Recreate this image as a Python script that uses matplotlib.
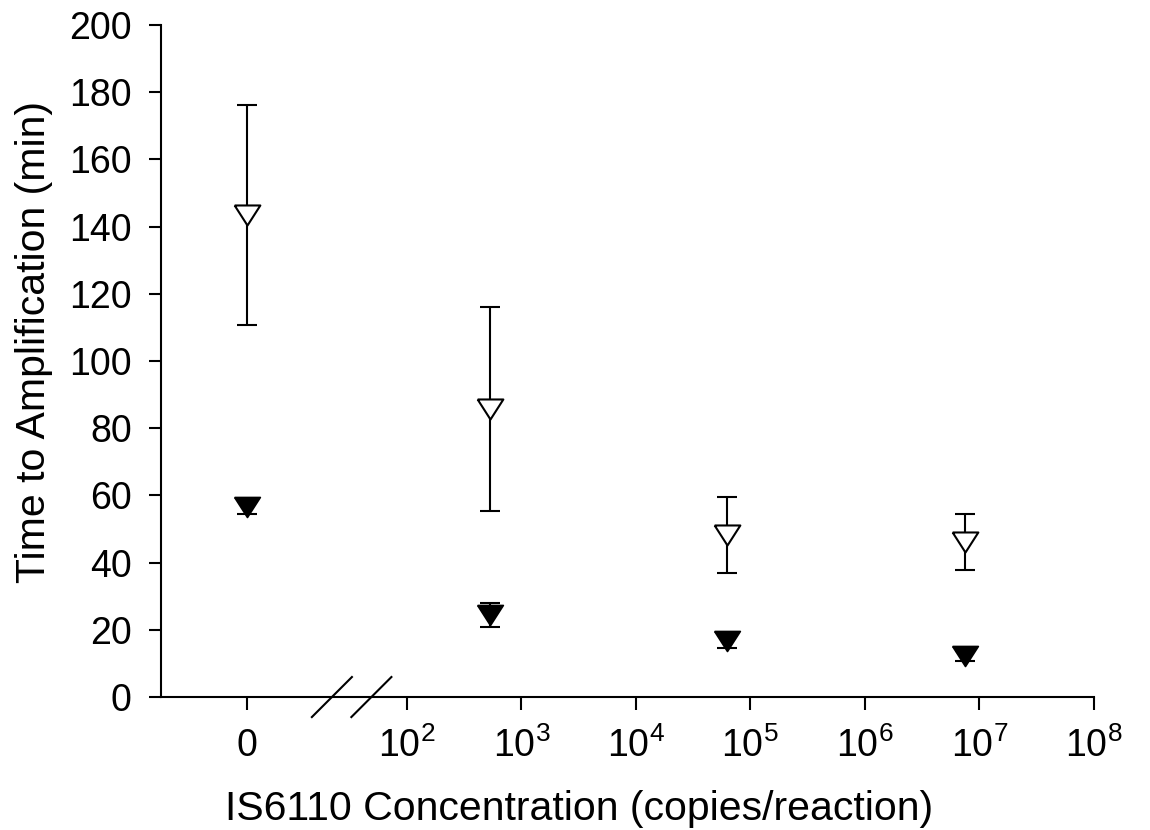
import numpy as np
import matplotlib
matplotlib.use('Agg')
import matplotlib.pyplot as plt

plt.rcParams['font.family'] = ['Liberation Sans', 'DejaVu Sans']
plt.rcParams['mathtext.fontset'] = 'custom'
plt.rcParams['mathtext.rm'] = 'Liberation Sans'
plt.rcParams['mathtext.default'] = 'regular'

# IS6110 concentration (copies/reaction), 0 = no template
conc = [0, 5.3e2, 6.3e4, 7.5e6]

# time to amplification (min)
open_mean = [143.5, 85.8, 48.1, 46.1]
open_err = [32.7, 30.4, 11.3, 8.3]
filled_mean = [56.5, 24.3, 16.8, 12.2]
filled_err = [2.0, 3.6, 2.2, 1.4]

tick_exp = [2, 3, 4, 5, 6, 7, 8]

# where the "0" sits on the broken log axis (in decades)
zero_pos = 0.6

conc = np.array(conc, dtype=float)
xpos = np.where(conc > 0, np.log10(np.where(conc > 0, conc, 1)), zero_pos)

fig = plt.figure(figsize=(11.5, 8.3), dpi=100)
ax = fig.add_axes([0.140, 0.1602, 0.811, 0.8097])

# triangle marker, wider than tall
tri = [(-1, 0.78), (1, 0.78), (0, -0.78), (-1, 0.78)]

lw = 1.5

ax.errorbar(xpos, filled_mean, yerr=filled_err, fmt='none', ecolor='k',
            elinewidth=lw, capsize=7.5, capthick=lw, zorder=2)
ax.plot(xpos, filled_mean, ls='none', marker=tri, ms=18.5, mfc='k', mec='k',
        mew=1.2, zorder=3)

ax.errorbar(xpos, open_mean, yerr=open_err, fmt='none', ecolor='k',
            elinewidth=lw, capsize=7.5, capthick=lw, zorder=2)
ax.plot(xpos, open_mean, ls='none', marker=tri, ms=18.5, mfc='white', mec='k',
        mew=lw, zorder=3)

ax.set_xlim(-0.148, 8.0)
ax.set_ylim(0, 200)

ax.set_xticks([zero_pos] + tick_exp)
ax.set_xticklabels(['0'] + ['$10^{%d}$' % e for e in tick_exp])
ax.set_yticks(np.arange(0, 201, 20))

ax.spines['top'].set_visible(False)
ax.spines['right'].set_visible(False)
for s in ['left', 'bottom']:
    ax.spines[s].set_linewidth(lw)
ax.tick_params(axis='both', direction='out', length=9, width=lw,
               labelsize=27)
ax.tick_params(axis='x', pad=13)
ax.tick_params(axis='y', pad=12)

ax.set_xlabel('IS6110 Concentration (copies/reaction)', fontsize=29.5)
ax.set_ylabel('Time to Amplification (min)', fontsize=29.5)
ax.xaxis.set_label_coords(0.448, -0.139)
ax.yaxis.set_label_coords(-0.116, 0.528)

# axis break marks
trans = ax.get_xaxis_transform()
dy = 0.0298
dx = 0.175
for xc in [1.345, 1.69]:
    ax.plot([xc - dx, xc + dx], [-dy, dy], color='k', lw=lw,
            transform=trans, clip_on=False)

fig.savefig('out.png', dpi=100)
